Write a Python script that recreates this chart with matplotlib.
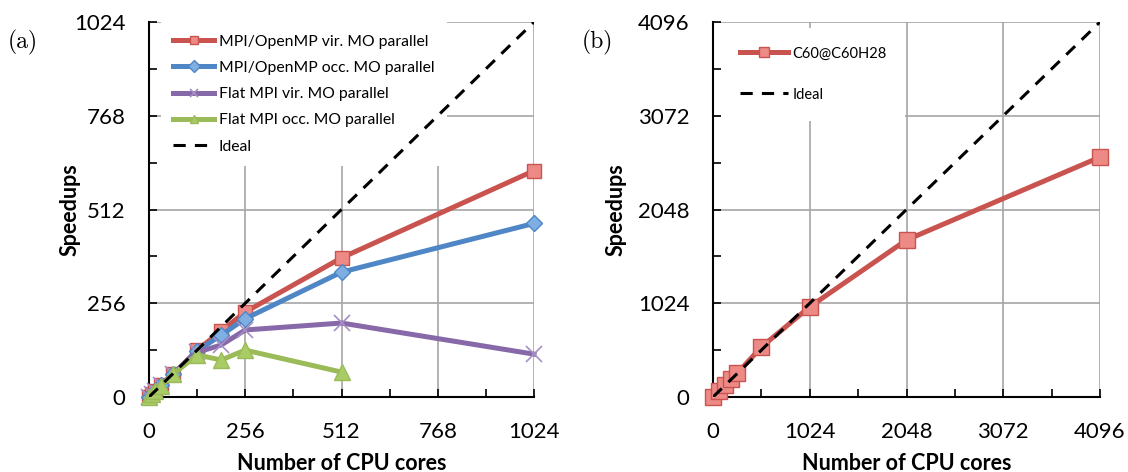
import matplotlib
matplotlib.use("Agg")
import matplotlib.pyplot as plt
from matplotlib.ticker import MultipleLocator

plt.rcParams['font.family'] = ['Lato', 'DejaVu Sans']

# ---- Panel (a) data ----
cores_a = [1, 8, 16, 32, 64, 128, 192, 256, 512, 1024]
hyb_vir = [1, 8, 16, 32, 62, 128, 180, 232, 380, 618]
hyb_occ = [1, 8, 16, 32, 62, 126, 169, 214, 341, 474]
flat_vir = [1, 8, 16, 32, 62, 122, 142, 183, 202, 117]
cores_flat_occ = [1, 8, 16, 32, 64, 128, 192, 256, 512]
flat_occ = [1, 8, 16, 31, 62, 115, 101, 128, 68]
ideal_a = [0, 1024]

# ---- Panel (b) data ----
cores_b = [1, 64, 128, 192, 256, 512, 1024, 2048, 4096]
c60 = [1, 70, 130, 195, 258, 546, 985, 1715, 2620]
ideal_b = [0, 4096]

labels_a = ["MPI/OpenMP vir. MO parallel", "MPI/OpenMP occ. MO parallel",
            "Flat MPI vir. MO parallel", "Flat MPI occ. MO parallel", "Ideal"]
labels_b = ["C60@C60H28", "Ideal"]

RED, RED_F = "#C9534F", "#EE8A86"
BLUE, BLUE_F = "#4F86C6", "#7FAEE3"
PURP = "#8768A8"
GREEN, GREEN_F = "#9BBB59", "#A9CC66"

fig = plt.figure(figsize=(11.28, 4.72), dpi=100)
axa = fig.add_axes([149/1128, 75/472, 385/1128, 375/472])
axb = fig.add_axes([713/1128, 75/472, 387/1128, 375/472])

lw = 3.6
axa.plot(cores_a, hyb_vir, color=RED, lw=lw, marker='s', ms=10, mfc=RED_F, mec=RED,
         mew=1, label=labels_a[0], clip_on=False, zorder=3)
axa.plot(cores_a, hyb_occ, color=BLUE, lw=lw, marker='D', ms=8, mfc=BLUE_F, mec=BLUE,
         mew=1, label=labels_a[1], clip_on=False, zorder=4)
axa.plot(cores_a, flat_vir, color=PURP, lw=lw, marker='x', ms=11, mec="#A58FC4",
         mew=1.2, label=labels_a[2], clip_on=False, zorder=5)
axa.plot(cores_flat_occ, flat_occ, color=GREEN, lw=lw, marker='^', ms=11, mfc=GREEN_F,
         mec=GREEN, mew=1, label=labels_a[3], clip_on=False, zorder=6)
axa.plot(ideal_a, ideal_a, color='black', lw=2.2, ls=(0, (4, 3)), label=labels_a[4], zorder=7)

axb.plot(cores_b, c60, color=RED, lw=lw, marker='s', ms=11, mfc=RED_F, mec=RED,
         mew=1, label=labels_b[0], clip_on=False, zorder=3)
axb.plot(ideal_b, ideal_b, color='black', lw=2.2, ls=(0, (4, 3)), label=labels_b[1], zorder=7)

for ax, top, major, minor, ylp in [(axa, 1024, 256, 128, -5), (axb, 4096, 1024, 512, 8)]:
    ax.set_xlim(0, top)
    ax.set_ylim(0, top)
    ax.xaxis.set_major_locator(MultipleLocator(major))
    ax.yaxis.set_major_locator(MultipleLocator(major))
    ax.xaxis.set_minor_locator(MultipleLocator(minor))
    ax.yaxis.set_minor_locator(MultipleLocator(minor))
    ax.grid(True, which='major', color='#A6A6A6', lw=1.2, zorder=0)
    ax.set_axisbelow(True)
    for s in ['top', 'right']:
        ax.spines[s].set_visible(False)
    for s in ['left', 'bottom']:
        ax.spines[s].set_linewidth(1.5)
        ax.spines[s].set_zorder(2)
    ax.tick_params(axis='y', which='both', direction='in', length=6, width=1.2, pad=17, labelsize=16)
    ax.tick_params(axis='x', which='both', direction='in', length=6, width=1.2, pad=18, labelsize=16)
    ax.tick_params(which='minor', labelleft=False, labelbottom=False)
    ax.set_xlabel("Number of CPU cores", fontsize=15.5, fontweight='bold', labelpad=8)
    ax.set_ylabel("Speedups", fontsize=15.5, fontweight='bold', labelpad=ylp)

lega = axa.legend(loc='upper left', bbox_to_anchor=(0.03, 1.0), fontsize=11.3,
                  handlelength=2.6, handletextpad=0.3, labelspacing=0.78,
                  frameon=True, fancybox=False, numpoints=1, borderaxespad=0.0,
                  borderpad=0.8)
lega.get_frame().set_edgecolor('none')
lega.get_frame().set_facecolor('white')
lega.get_frame().set_alpha(1)
for h in lega.legend_handles[:4]:
    h.set_markersize(6)

legb = axb.legend(loc='upper left', bbox_to_anchor=(0.02, 0.985), fontsize=10.5,
                  handlelength=3.3, handletextpad=0.3, labelspacing=1.85,
                  frameon=True, fancybox=False, numpoints=1, borderaxespad=0.0,
                  borderpad=1.3)
legb.get_frame().set_edgecolor('none')
legb.get_frame().set_facecolor('white')
legb.get_frame().set_alpha(1)
legb.legend_handles[0].set_markersize(7)

fig.text(8/1128, 1 - 42/472, "(a)", fontsize=17, family='cmr10', va='center', ha='left')
fig.text(582/1128, 1 - 42/472, "(b)", fontsize=17, family='cmr10', va='center', ha='left')

fig.savefig("out.png", dpi=100)
